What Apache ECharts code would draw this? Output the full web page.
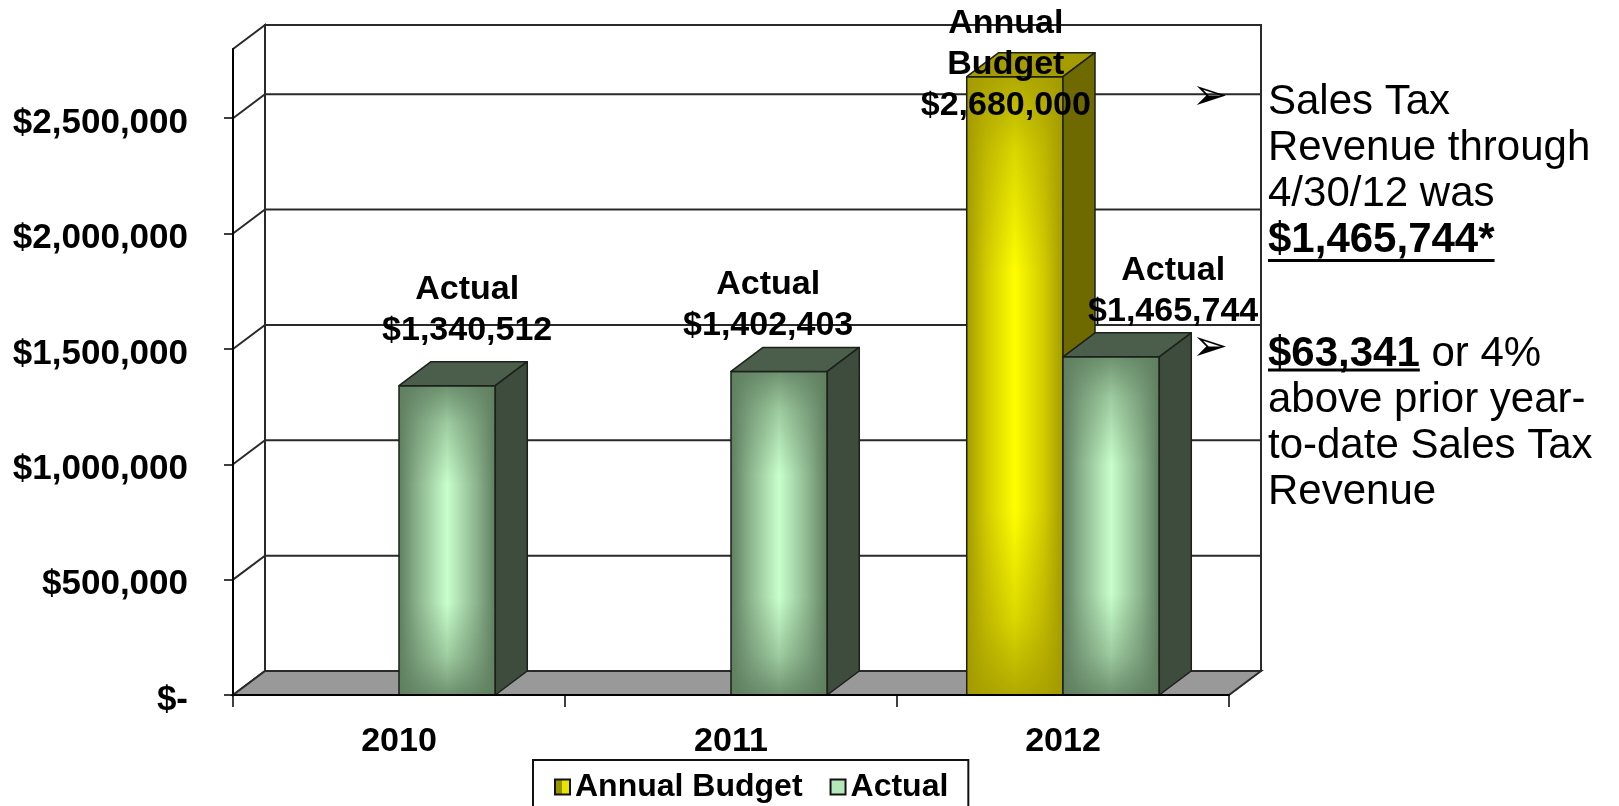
<!DOCTYPE html>
<html>
<head>
<meta charset="utf-8">
<title>Sales Tax Revenue</title>
<script src="https://cdn.jsdelivr.net/npm/echarts@6/dist/echarts.min.js"></script>
<style>
  html, body { margin: 0; padding: 0; background: #fff; }
  #chart { width: 1619px; height: 806px; }
</style>
</head>
<body>
<div id="chart"></div>
<script>
// Fiscal years on the category axis
const years = ['2010', '2011', '2012'];
// Budgeted sales tax revenue (budget only set for 2012)
const annualBudget = [null, null, 2680000];
// Actual sales tax revenue
const actual = [1340512, 1402403, 1465744];
// Value-axis tick values and axis ceiling
const yTicks = [0, 500000, 1000000, 1500000, 2000000, 2500000];
const yMax = 2800000;

const FONT = '"Liberation Sans", Arial, Helvetica, sans-serif';
// Offset from the front plane to the back wall (pseudo-3D depth)
const DX = 32, DY = -24;
// Bar width as a share of one category band
const BAR_FRACTION = 0.29;

function money(v) {
  return v === 0 ? '$-' : '$' + Math.round(v).toLocaleString('en-US');
}

// Face colours: ramp runs edge -> middle -> centre highlight
const PALETTE = {
  'Annual Budget': {
    ramp: ['#a39b00', '#d2cb00', '#ffff00'],
    top: '#a59d00', side: '#6f6a00'
  },
  'Actual': {
    ramp: ['#5f7f5f', '#8db58f', '#c8ffcc'],
    top: '#4b5e4b', side: '#3d4c3d'
  }
};
const LABEL_TITLE = { 'Annual Budget': 'Annual\nBudget', 'Actual': 'Actual' };
// Hand-placed data label offsets (from front-face centre x, back top edge y)
const LABEL_NUDGE = {
  'Actual': [[20, -11], [-11, -1], [62, -1]],
  'Annual Budget': [null, null, [-9, 73]]
};

function rgba(hex, a) {
  const n = parseInt(hex.slice(1), 16);
  return 'rgba(' + (n >> 16) + ',' + ((n >> 8) & 255) + ',' + (n & 255) + ',' + a + ')';
}

// Side-to-side shading: dark edges, bright middle
function hGrad(colors) {
  const [e, m, c] = colors;
  return {
    type: 'linear', x: 0, y: 0, x2: 1, y2: 0,
    colorStops: [
      { offset: 0, color: e }, { offset: 0.2, color: m }, { offset: 0.5, color: c },
      { offset: 0.8, color: m }, { offset: 1, color: e }
    ]
  };
}
// Top/bottom shading laid over the side-to-side one
function vGrad(colors) {
  const e = colors[0];
  return {
    type: 'linear', x: 0, y: 0, x2: 0, y2: 1,
    colorStops: [
      { offset: 0, color: rgba(e, 0.85) }, { offset: 0.12, color: rgba(e, 0.4) },
      { offset: 0.32, color: rgba(e, 0) }, { offset: 0.7, color: rgba(e, 0) },
      { offset: 0.88, color: rgba(e, 0.4) }, { offset: 1, color: rgba(e, 0.85) }
    ]
  };
}

// Walls, floor and back-wall gridlines
function renderFrame(params, api) {
  const cs = params.coordSys;
  const X0 = cs.x, X1 = cs.x + cs.width, YT = cs.y, YB = cs.y + cs.height;
  const line = { stroke: '#2a2a2a', lineWidth: 2 };
  const ch = [];
  ch.push({ type: 'rect', shape: { x: X0 + DX, y: YT + DY, width: X1 - X0, height: YB - YT },
            style: Object.assign({ fill: '#fff' }, line) });
  ch.push({ type: 'polygon', shape: { points: [[X0, YT], [X0 + DX, YT + DY], [X0 + DX, YB + DY], [X0, YB]] },
            style: Object.assign({ fill: '#fff' }, line) });
  yTicks.forEach(t => {
    if (t === 0) return;
    const y = api.coord([0, t])[1];
    ch.push({ type: 'polyline', shape: { points: [[X0, y], [X0 + DX, y + DY], [X1 + DX, y + DY]] },
              style: Object.assign({ fill: null }, line) });
  });
  ch.push({ type: 'polygon', shape: { points: [[X0, YB], [X1, YB], [X1 + DX, YB + DY], [X0 + DX, YB + DY]] },
            style: Object.assign({ fill: '#999999' }, line) });
  return { type: 'group', children: ch };
}

// One shaded box per data value, with its label
function barRenderer(name) {
  const pal = PALETTE[name];
  return function (params, api) {
    const i = api.value(0), v = api.value(1);
    if (isNaN(v)) return null;
    const base = api.coord([i, 0]);
    const top = api.coord([i, v]);
    const bw = api.size([1, 0])[0] * BAR_FRACTION;
    const x0 = name === 'Annual Budget' ? base[0] - bw : base[0];
    const x1 = x0 + bw, yT = top[1], yB = base[1];
    const edge = { stroke: '#1b201b', lineWidth: 1.5, lineJoin: 'round' };
    const face = { x: x0, y: yT, width: bw, height: yB - yT };
    const ch = [
      { type: 'rect', shape: face, style: { fill: hGrad(pal.ramp) } },
      { type: 'rect', shape: face, style: { fill: vGrad(pal.ramp) } },
      { type: 'rect', shape: face, style: Object.assign({ fill: null }, edge) },
      { type: 'polygon', shape: { points: [[x0, yT], [x0 + DX, yT + DY], [x1 + DX, yT + DY], [x1, yT]] },
        style: Object.assign({ fill: pal.top }, edge) },
      { type: 'polygon', shape: { points: [[x1, yT], [x1 + DX, yT + DY], [x1 + DX, yB + DY], [x1, yB]] },
        style: Object.assign({ fill: pal.side }, edge) }
    ];
    const nudge = (LABEL_NUDGE[name] && LABEL_NUDGE[name][i]) || [DX / 2, -8];
    ch.push({
      type: 'text', z2: 50,
      x: (x0 + x1) / 2 + nudge[0], y: yT + DY + nudge[1],
      style: {
        text: LABEL_TITLE[name] + '\n' + money(v),
        fontFamily: FONT, fontSize: 34, fontWeight: 'bold', fill: '#000',
        align: 'center', verticalAlign: 'bottom', lineHeight: 41
      }
    });
    return { type: 'group', children: ch };
  };
}

// Side notes
const measureCtx = document.createElement('canvas').getContext('2d');
function textWidth(str, font) { measureCtx.font = font; return measureCtx.measureText(str).width; }

const NOTE_X = 1268, NOTE_STEP = 46;
const noteFont = '42px ' + FONT;
const noteBold = 'bold 42px ' + FONT;
const graphic = [];
function noteText(text, x, y, font) {
  graphic.push({ type: 'text', x: x, y: y, z: 20,
    style: { text: text, font: font, fill: '#000', align: 'left', verticalAlign: 'middle' } });
}
function underline(x, y, w) {
  graphic.push({ type: 'rect', z: 20, shape: { x: x, y: y - 1.5, width: w, height: 3 }, style: { fill: '#000' } });
}
function arrow(y) {
  graphic.push({ type: 'text', x: 1210, y: y, z: 20,
    style: { text: '\u27A2', font: '43px "DejaVu Sans"', fill: '#000', align: 'center', verticalAlign: 'middle' } });
}

const ytdText = money(actual[2]) + '*';
const gainText = money(actual[2] - actual[1]);
let ny = 102.5;
['Sales Tax', 'Revenue through', '4/30/12 was'].forEach(s => { noteText(s, NOTE_X, ny, noteFont); ny += NOTE_STEP; });
noteText(ytdText, NOTE_X, ny, noteBold);
underline(NOTE_X, ny + 20, textWidth(ytdText, noteBold));
arrow(98);

ny = 354;
const gw = textWidth(gainText, noteBold);
noteText(gainText, NOTE_X, ny, noteBold);
noteText(' or 4%', NOTE_X + gw, ny, noteFont);
underline(NOTE_X, ny + 16, gw);
ny += NOTE_STEP;
['above prior year-', 'to-date Sales Tax', 'Revenue'].forEach(s => { noteText(s, NOTE_X, ny, noteFont); ny += NOTE_STEP; });
arrow(349);

const chart = echarts.init(document.getElementById('chart'), null, { renderer: 'canvas' });
chart.setOption({
  animation: false,
  backgroundColor: '#ffffff',
  textStyle: { fontFamily: FONT },
  grid: { left: 233, right: 390, top: 49, bottom: 111 },
  legend: {
    left: 533, top: 760, selectedMode: false,
    itemWidth: 15, itemHeight: 15, itemGap: 27,
    padding: [10, 20, 10, 21],
    borderColor: '#111', borderWidth: 2, backgroundColor: '#fff',
    textStyle: { fontFamily: FONT, fontSize: 32, fontWeight: 'bold', color: '#000', lineHeight: 34 },
    data: [
      { name: 'Annual Budget', icon: 'rect',
        itemStyle: { color: { type: 'linear', x: 0, y: 0, x2: 1, y2: 0,
          colorStops: [{ offset: 0, color: '#9a9300' }, { offset: 0.45, color: '#9a9300' }, { offset: 0.5, color: '#e8e400' }, { offset: 1, color: '#e8e400' }] },
          borderColor: '#111', borderWidth: 2 } },
      { name: 'Actual', icon: 'rect',
        itemStyle: { color: '#b4e8b8', borderColor: '#111', borderWidth: 2 } }
    ]
  },
  xAxis: {
    type: 'category', data: years, z: 5,
    axisLine: { lineStyle: { color: '#000', width: 2 } },
    axisTick: { show: true, length: 12, lineStyle: { color: '#000', width: 1.5 } },
    axisLabel: { fontFamily: FONT, fontSize: 34, fontWeight: 'bold', color: '#000', margin: 30 },
    splitLine: { show: false }
  },
  yAxis: {
    type: 'value', min: 0, max: yMax, interval: 500000, z: 5,
    axisLine: { show: true, lineStyle: { color: '#000', width: 2 } },
    axisTick: { show: true, length: 9, customValues: yTicks, lineStyle: { color: '#000', width: 1.5 } },
    axisLabel: { customValues: yTicks, formatter: money, fontFamily: FONT, fontSize: 35,
                 fontWeight: 'bold', color: '#000', margin: 45,
                 verticalAlign: 'top', lineHeight: 10 },
    splitLine: { show: false }
  },
  series: [
    { type: 'custom', name: 'frame', z: 1, silent: true, renderItem: renderFrame, data: [[0, 0]] },
    { type: 'custom', name: 'Annual Budget', z: 2, renderItem: barRenderer('Annual Budget'),
      itemStyle: { color: '#e8e400' },
      data: years.map((y, i) => [i, annualBudget[i]]).filter(d => d[1] != null) },
    { type: 'custom', name: 'Actual', z: 3, renderItem: barRenderer('Actual'),
      itemStyle: { color: '#b4e8b8' },
      data: years.map((y, i) => [i, actual[i]]) }
  ],
  graphic: graphic
});
</script>
</body>
</html>
